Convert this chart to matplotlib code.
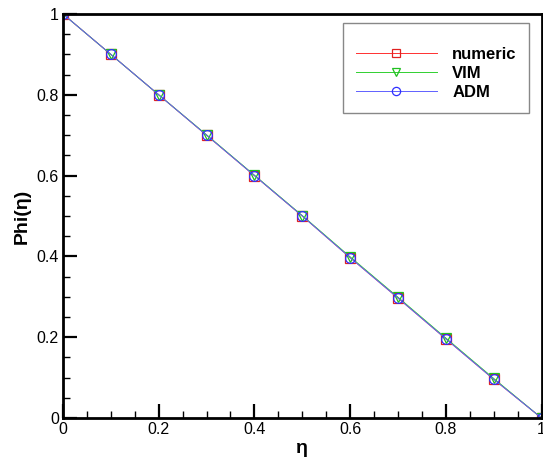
import numpy as np
import matplotlib.pyplot as plt
from matplotlib.ticker import MultipleLocator

# Concentration profile along eta
eta = [0.0, 0.1, 0.2, 0.3, 0.4, 0.5, 0.6, 0.7, 0.8, 0.9, 1.0]
phi_numeric = [1.0, 0.9, 0.8, 0.7, 0.6, 0.5, 0.397, 0.297, 0.196, 0.096, 0.0]
phi_vim = [1.0, 0.9, 0.8, 0.701, 0.601, 0.501, 0.399, 0.299, 0.198, 0.098, 0.0]
phi_adm = [1.0, 0.9, 0.8, 0.7, 0.6, 0.5, 0.397, 0.297, 0.196, 0.096, 0.0]

major_ticks = [0.0, 0.2, 0.4, 0.6, 0.8, 1.0]
tick_labels = ['0', '0.2', '0.4', '0.6', '0.8', '1']

plt.rcParams['font.family'] = ['Liberation Sans', 'DejaVu Sans']

fig = plt.figure(figsize=(5.43, 4.57), dpi=100)
ax = fig.add_axes([63 / 543, 39 / 457, 478.5 / 543, 404 / 457])

ax.plot(eta, phi_numeric, '-s', color='#ff3030', lw=0.7, ms=6.5,
        mfc='none', mec='#e02020', mew=0.9, label='numeric')
ax.plot(eta, phi_vim, '-v', color='#30d030', lw=0.7, ms=6.5,
        mfc='none', mec='#20c020', mew=0.9, label='VIM')
ax.plot(eta, phi_adm, '-o', color='#6060ff', lw=0.7, ms=7,
        mfc='none', mec='#3030ff', mew=0.9, label='ADM')

ax.set_xlim(0, 1)
ax.set_ylim(0, 1)
ax.set_xticks(major_ticks)
ax.set_xticklabels(tick_labels)
ax.set_yticks(major_ticks)
ax.set_yticklabels(tick_labels)
ax.xaxis.set_minor_locator(MultipleLocator(0.05))
ax.yaxis.set_minor_locator(MultipleLocator(0.05))

ax.tick_params(which='both', direction='in', top=False, right=False,
               width=1.6, labelsize=11.5, pad=3)
ax.tick_params(which='major', length=10)
ax.tick_params(which='minor', length=5, width=1.0)
for s in ax.spines.values():
    s.set_linewidth(2)

ax.set_xlabel('η', fontsize=14, fontweight='bold', labelpad=2)
ax.set_ylabel('Phi(η)', fontsize=14, fontweight='bold', labelpad=4)

# blank title gives the extra headroom above the first entry
leg = ax.legend(loc='upper left', bbox_to_anchor=(343 / 543, 1 - 23 / 457),
                bbox_transform=fig.transFigure,
                prop={'weight': 'bold', 'size': 12},
                title=' ', title_fontsize=5,
                handlelength=4.9, handletextpad=0.9, labelspacing=0.25,
                borderpad=0.75, borderaxespad=0, fancybox=False,
                framealpha=1, edgecolor='#888888', markerscale=0.85)
leg.get_frame().set_linewidth(1.0)

fig.savefig('out.png', dpi=100)
